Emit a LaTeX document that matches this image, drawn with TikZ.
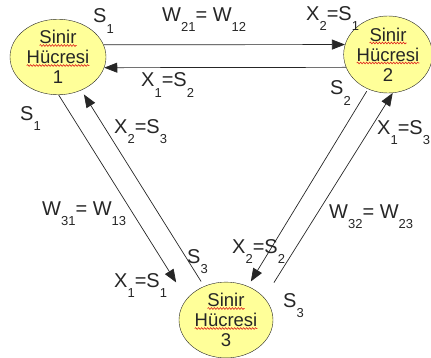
\documentclass[tikz,border=0pt]{standalone}
\usepackage{fontspec}
\setmainfont{Liberation Sans}
\usetikzlibrary{arrows.meta,calc,shapes.geometric,decorations.pathmorphing}
\definecolor{Cell}{HTML}{FFFF99}
\definecolor{Ink}{HTML}{262626}
\definecolor{Spell}{HTML}{E0221B}
\newcommand{\lo}[1]{\raisebox{-10pt}{\fontsize{13}{13}\selectfont #1}}

\begin{document}
\begin{tikzpicture}[x=1pt,y=1pt,
  every node/.style={text=Ink},
  cell/.style={ellipse, draw=Ink, fill=Cell, inner sep=0pt, align=center, font=\fontsize{18.5}{20}\selectfont},
  lbl/.style={anchor=base west, inner sep=0pt, font=\fontsize{20}{20}\selectfont},
  link/.style={draw=Ink, line width=0.7pt, -{Triangle[length=13pt,width=10pt]}},
  wave/.style={draw=Spell, line width=0.6pt, decorate, decoration={snake, amplitude=0.9pt, segment length=3pt}}]
  \useasboundingbox (0,0) rectangle (431,357);
  \node[cell, minimum width=96pt, minimum height=72pt] (n1) at (58,300) {Sinir\\Hücresi\\1};
  \node[cell, minimum width=88pt, minimum height=77pt] (n2) at (388,302.5) {Sinir\\Hücresi\\2};
  \node[cell, minimum width=94pt, minimum height=72pt] (n3) at (226,37) {Sinir\\Hücresi\\3};
  \foreach \n in {n1,n2,n3} {
    \draw[wave] ($(\n)+(-18.5,11.5)$) -- ++(37,0);
    \draw[wave] ($(\n)+(-31.3,-8.5)$) -- ++(62.6,0);
  }
  \draw[link] (n1.15) -- (n2.167);
  \draw[link] (n2.197) -- (n1.347);
  \draw[link, shorten >=19.6pt] (n1.271) -- (n3.152);
  \draw[link, shorten <=5.6pt, shorten >=5pt] (n3.123) -- (n1.305);
  \draw[link, shorten <=2.5pt, shorten >=5.6pt] (n2.240) -- (n3.57);
  \draw[link, shorten <=18pt] (n3.30) -- (n2.277);
  \node[lbl] (s1a) at (93,334) {S\lo{1}};
  \node[lbl] (w12) at (162,335) {W\lo{21}= W\lo{12}};
  \node[lbl] (x2s1) at (306,336) {X\lo{2}=S\lo{1}};
  \node[lbl] (x1s2) at (141,270) {X\lo{1}=S\lo{2}};
  \node[lbl] (s1b) at (20,237) {S\lo{1}};
  \node[lbl] (x2s3) at (114,224) {X\lo{2}=S\lo{3}};
  \node[lbl] (w13) at (42,142) {W\lo{31}= W\lo{13}};
  \node[lbl] (s3a) at (187,94) {S\lo{3}};
  \node[lbl] (x1s1) at (114,70) {X\lo{1}=S\lo{1}};
  \node[lbl] (s2) at (330,262) {S\lo{2}};
  \node[lbl] (x1s3) at (377,223) {X\lo{1}=S\lo{3}};
  \node[lbl] (w23) at (329,139) {W\lo{32}= W\lo{23}};
  \node[lbl] (x2s2) at (232,104) {X\lo{2}=S\lo{2}};
  \node[lbl] (s3b) at (283,50) {S\lo{3}};
\end{tikzpicture}
\end{document}
